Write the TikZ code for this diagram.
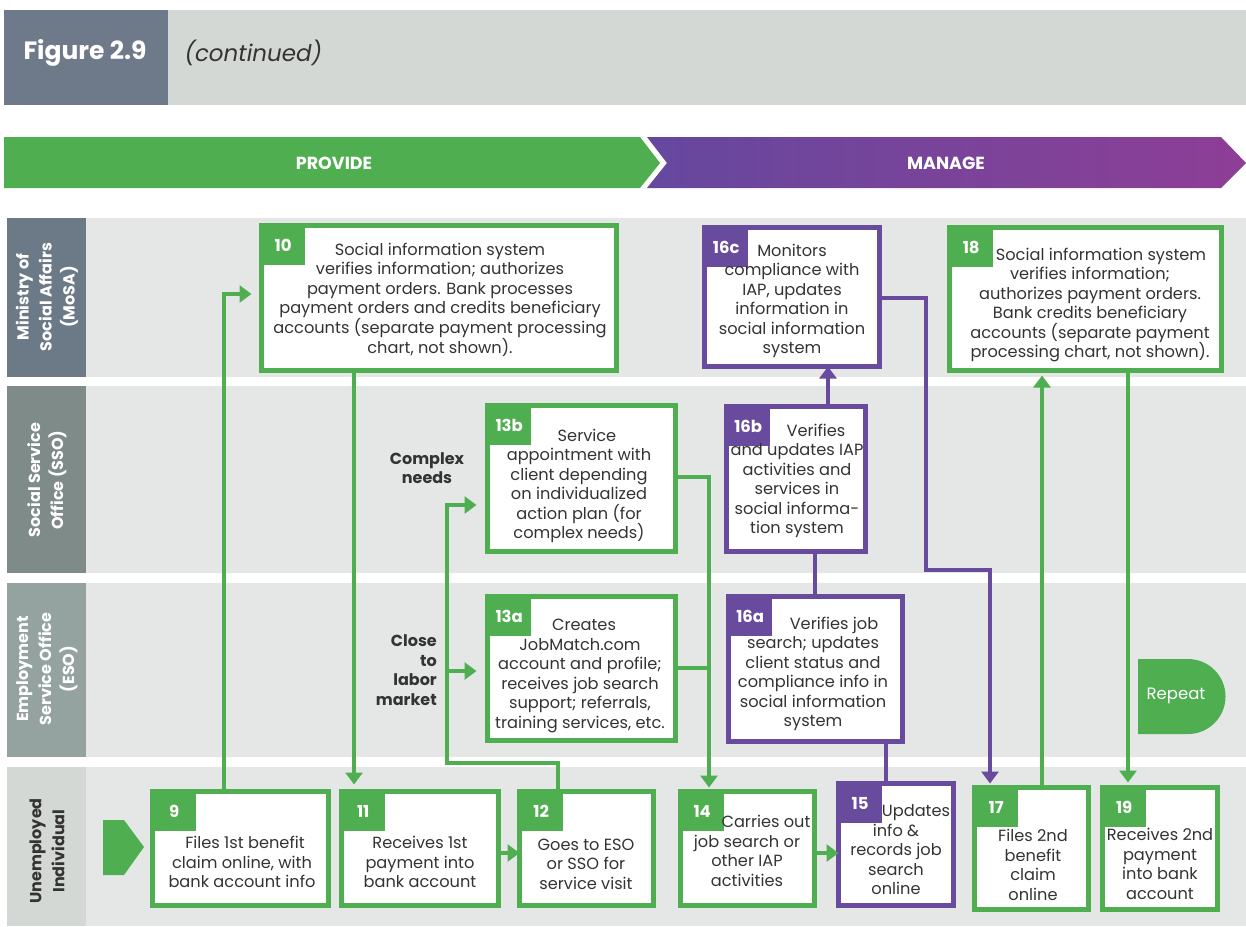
\documentclass[tikz,border=0pt]{standalone}
\usepackage{fontspec}
\setmainfont{Poppins}
\usetikzlibrary{arrows.meta}

\definecolor{grn}{RGB}{79,175,80}
\definecolor{prp}{RGB}{104,75,157}
\definecolor{prpL}{RGB}{101,72,158}
\definecolor{prpR}{RGB}{142,62,150}
\definecolor{lanebg}{RGB}{229,231,230}
\definecolor{txt}{RGB}{51,51,51}
\definecolor{hdrdark}{RGB}{110,122,138}
\definecolor{hdrlight}{RGB}{212,216,213}
\definecolor{labA}{RGB}{108,121,135}
\definecolor{labB}{RGB}{127,139,137}
\definecolor{labC}{RGB}{148,163,160}
\definecolor{labD}{RGB}{211,216,213}

% box with its number tab: name, colour, x1, y1, x2, y2 (outer edges), number
\newcommand\flowbox[7]{%
  \node[fbox, draw=#2, minimum width={(#5-#3-5)*1pt}, minimum height={(#6-#4-5)*1pt}]
    (#1) at ({(#3+#5)/2},{(#4+#6)/2}) {};
  \node[numtab, fill=#2, anchor=north west] (#1t) at (#1.north west) {#7};
}

\tikzset{
  fbox/.style={fill=white, line width=5pt, inner sep=0pt, outer sep=0pt},
  numtab/.style={minimum width=43pt, minimum height=39pt, inner sep=0pt,
    text=white, font=\bfseries\fontsize{16.5}{18}\selectfont},
  btxt/.style={align=center, text=txt, inner sep=0pt,
    font=\fontsize{16.2}{19.5}\selectfont},
  lanelab/.style={rotate=90, align=center, inner sep=0pt,
    font=\bfseries\fontsize{16}{23}\selectfont},
  sidelab/.style={inner sep=0pt, text=txt, font=\bfseries\fontsize{16}{19.5}\selectfont},
  gline/.style={draw=grn, line width=4.5pt},
  pline/.style={draw=prp, line width=4.5pt},
  tip/.style={-{Triangle[width=17pt,length=12pt]}},
}

\begin{document}
\begin{tikzpicture}[x=1pt,y=-1pt]
\useasboundingbox (0,0) rectangle (1246,926);
\fill[white] (0,0) rectangle (1246,926);

% title bar
\fill[hdrlight] (4,10) rectangle (1246,105);
\fill[hdrdark] (4,10) rectangle (168,105);
\node[text=white, font=\bfseries\fontsize{25}{28}\selectfont] (figno) at (85,53) {Figure 2.9};
\node[text=txt, font=\itshape\fontsize{23}{26}\selectfont, anchor=west] (cont) at (181,53) {(continued)};

% phase banner
\fill[grn] (4,137) -- (640,137) -- (660,163) -- (640,188) -- (4,188) -- cycle;
\shade[left color=prpL, right color=prpR]
  (647,137) -- (1221,137) -- (1246,163) -- (1221,188) -- (647,188) -- (667,163) -- cycle;
\node[text=white, font=\bfseries\fontsize{17.5}{20}\selectfont] (provide) at (334,163) {PROVIDE};
\node[text=white, font=\bfseries\fontsize{17.5}{20}\selectfont] (manage) at (946,163) {MANAGE};

% swimlanes
\fill[lanebg] (86,218) rectangle (1246,377);
\fill[lanebg] (86,386) rectangle (1246,573);
\fill[lanebg] (86,583) rectangle (1246,757);
\fill[lanebg] (86,767) rectangle (1246,926);
\fill[labA] (7,218) rectangle (86,377);
\fill[labB] (7,386) rectangle (86,573);
\fill[labC] (7,583) rectangle (86,757);
\fill[labD] (7,767) rectangle (86,926);
\node[lanelab, text=white] (laneA) at (47,297) {Ministry of\\Social Affairs\\(MoSA)};
\node[lanelab, text=white] (laneB) at (47,480) {Social Service\\Office (SSO)};
\node[lanelab, text=white] (laneC) at (47,669) {Employment\\Service Office\\(ESO)};
\node[lanelab, text=txt] (laneD) at (47,851) {Unemployed\\Individual};

% start marker
\fill[grn] (103,820) -- (124,820) -- (144,847) -- (124,875) -- (103,875) -- cycle;

% process boxes
\flowbox{b10}{grn}{259}{223}{619}{373}{10}
\flowbox{b9}{grn}{150}{789}{331}{908}{9}
\flowbox{b11}{grn}{339}{789}{501}{908}{11}
\flowbox{b12}{grn}{517}{789}{656}{908}{12}
\flowbox{b13b}{grn}{485}{403}{678}{554}{13b}
\flowbox{b13a}{grn}{485}{594}{678}{743}{13a}
\flowbox{b14}{grn}{678}{789}{817}{908}{14}
\flowbox{b15}{prp}{836}{781}{956}{908}{15}
\flowbox{b16a}{prp}{726}{594}{905}{744}{16a}
\flowbox{b16b}{prp}{724}{404}{868}{554}{16b}
\flowbox{b16c}{prp}{702}{225}{882}{369}{16c}
\flowbox{b17}{grn}{972}{785}{1091}{912}{17}
\flowbox{b19}{grn}{1100}{785}{1220}{912}{19}
\flowbox{b18}{grn}{947}{225}{1224}{373}{18}

% box texts
\node[btxt] (t10) at (440,300) {Social information system\\verifies information; authorizes\\payment orders. Bank processes\\payment orders and credits beneficiary\\accounts (separate payment processing\\chart, not shown).};
\node[btxt] (t9) at (242,862) {\hspace*{6pt}Files 1st benefit\\claim online, with\\bank account info};
\node[btxt] (t11) at (420,862) {Receives 1st\\payment into\\bank account};
\node[btxt] (t12) at (586,864) {Goes to ESO\\or SSO for\\service visit};
\node[btxt] (t13b) at (579,486) {\hspace*{16pt}Service\\appointment with\\client depending\\on individualized\\action plan (for\\complex needs)};
\node[btxt] (t13a) at (580,676) {\hspace*{8pt}Creates\\JobMatch.com\\account and profile;\\receives job search\\support; referrals,\\training services, etc.};
\node[btxt] (t14) at (747,851) {\hspace*{38pt}Carries out\\job search or\\other IAP\\activities};
\node[btxt] (t15) at (896,850) {\hspace*{40pt}Updates\\info \&\\records job\\search\\online};
\node[btxt] (t16a) at (813,674) {\hspace*{42pt}Verifies job\\search; updates\\client status and\\compliance info in\\social information\\system};
\node[btxt] (t16b) at (797,481) {\hspace*{38pt}Verifies\\and updates IAP\\activities and\\services in\\social informa-\\tion system};
\node[btxt] (t16c) at (792,301) {Monitors\\compliance with\\IAP, updates\\information in\\social information\\system};
\node[btxt] (t17) at (1033,865) {Files 2nd\\benefit\\claim\\online};
\node[btxt] (t19) at (1160,864) {Receives 2nd\\payment\\into bank\\account};
\node[btxt] (t18) at (1090,305) {\hspace*{22pt}Social information system\\verifies information;\\authorizes payment orders.\\Bank credits beneficiary\\accounts (separate payment\\processing chart, not shown).};

% branch labels
\node[sidelab, align=center] (lcomplex) at (427,468) {Complex\\needs};
\node[sidelab, align=right, anchor=east] (lclose) at (437,670) {Close\\to\\labor\\market};

% repeat marker
\fill[grn] (1138,659) -- (1188,659) arc[start angle=90, end angle=-90, radius=37.5pt] -- (1138,734) -- cycle;
\node[text=white, font=\fontsize{16.5}{19}\selectfont] (repeat) at (1176,696) {Repeat};

% connectors
\coordinate (split13) at (447,671);
\coordinate (join13) at (709,668);
\draw[gline, tip, shorten >=10pt] (b9.north -| 224,0) |- (b10.west |- 0,294);
\draw[gline, tip, shorten >=7pt] (b10.south -| 354,0) -- (b11.north -| 354,0);
\draw[gline, tip] (b11.east |- 0,853) -- (b12.west |- 0,853);
\draw[gline, tip, shorten >=11pt] (b12.north -| 558,0) -- (558,763) -| (447,505) -- (b13b.west |- 0,505);
\draw[gline, tip, shorten >=11pt] (split13) -- (b13a.west |- split13);
\draw[gline, tip, shorten >=4pt] (b13b.east |- 0,477) -| (b14.north -| join13);
\draw[gline] (b13a.east |- join13) -- (join13);
\draw[gline, tip] (b14.east |- 0,853) -- (b15.west |- 0,853);
\draw[pline] (b15.north -| 886,0) -- (b16a.south -| 886,0);
\draw[pline] (b16a.north -| 815,0) -- (b16b.south -| 815,0);
\draw[pline, -{Triangle[width=17pt,length=12pt]}] (b16b.north -| 828,0) -- (b16c.south -| 828,0);
\draw[pline, -{Triangle[width=17pt,length=12pt]}, shorten >=4pt] (b16c.east |- 0,298) -| (926,570) -| (b17.north -| 990,0);
\draw[gline, tip, shorten >=5pt] (b17.north -| 1042,0) -- (b18.south -| 1042,0);
\draw[gline, tip, shorten >=5pt] (b18.south -| 1128,0) -- (b19.north -| 1128,0);
\end{tikzpicture}
\end{document}
